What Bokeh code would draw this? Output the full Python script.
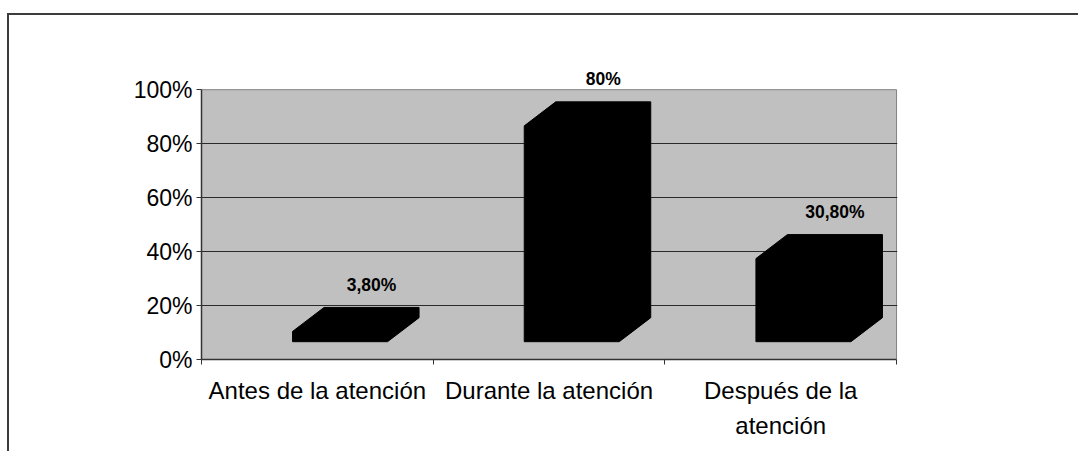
from bokeh.plotting import figure
from bokeh.models import Range1d, FixedTicker, ColumnDataSource
from bokeh.core.properties import value
from bokeh.embed import file_html
from bokeh.resources import INLINE

# ---- data ----
categories = ["Antes de la atención", "Durante la atención", "Después de la\natención"]
values = [3.8, 80.0, 30.8]
value_labels = ["3,80%", "80%", "30,80%"]
y_ticks = [0, 20, 40, 60, 80, 100]
y_tick_labels = ["0%", "20%", "40%", "60%", "80%", "100%"]

FONT = "Liberation Sans"

# ---- 3D look constants (style) ----
BASE = 6.6        # front-face floor (in value units)
DY = 8.9          # depth rise (value units)
DX = 0.136        # depth shift (category units)
FL = -0.107       # front-left offset from category centre
FR = 0.303        # front-right offset from category centre
LABEL_GAP = 8.5   # label above back-top edge (value units)
Y_MAX = y_ticks[-1]
N = len(categories)

p = figure(width=1078, height=451,
           x_range=Range1d(0, N + 0.004), y_range=Range1d(0, 111.2),
           output_backend="svg", toolbar_location=None,
           min_border_left=201, min_border_right=181,
           min_border_top=59, min_border_bottom=92,
           styles={
               "background": "linear-gradient(#3c3c3c, #3c3c3c) 8px 13px / 100% 2px no-repeat, "
                             "linear-gradient(#3c3c3c, #3c3c3c) 7px 13px / 2px 100% no-repeat, white"
           })

p.background_fill_alpha = 0
p.border_fill_alpha = 0
p.outline_line_alpha = 0

# plot area (grey wall)
p.quad(left=[0], right=[N], bottom=[0], top=[Y_MAX], fill_color="#C0C0C0",
       line_color="#808080", line_width=1, level="image")

# prisms
xs, ys, lx, ly = [], [], [], []
for i, v in enumerate(values):
    c = i + 0.5
    l, r = c + FL, c + FR
    top = BASE + v
    xs.append([l, r, r + DX, r + DX, l + DX, l])
    ys.append([BASE, BASE, BASE + DY, top + DY, top + DY, top])
    lx.append((l + r) / 2 + DX)
    ly.append(top + DY + LABEL_GAP)

p.patches(xs=xs, ys=ys, fill_color="black", line_color="black", line_width=1)

src = ColumnDataSource(dict(x=lx, y=ly, t=value_labels))
p.text(x="x", y="y", text="t", source=src, text_align="center", text_baseline="middle",
       text_font=value(FONT), text_font_style="bold", text_font_size="17.5px", text_color="black")

# grid
p.xgrid.visible = False
p.ygrid.ticker = FixedTicker(ticks=y_ticks[1:-1])
p.ygrid.grid_line_color = "#2a2a2a"
p.ygrid.grid_line_width = 1
p.ygrid.bounds = (0, N)

# x axis
cat_pos = [i + 0.5 for i in range(N)]
p.xaxis.ticker = FixedTicker(ticks=cat_pos, minor_ticks=list(range(N + 1)))
p.xaxis.major_label_overrides = {pos: lab for pos, lab in zip(cat_pos, categories)}
p.xaxis.bounds = (0, N)
p.xaxis.major_tick_out = 0
p.xaxis.major_tick_in = 0
p.xaxis.minor_tick_out = 5
p.xaxis.minor_tick_in = 0
p.xaxis.minor_tick_line_color = "#333333"
p.xaxis.axis_line_color = "#333333"
p.xaxis.axis_line_width = 1.5
p.xaxis.major_label_standoff = 12
p.xaxis.major_label_text_font = FONT
p.xaxis.major_label_text_font_size = "24px"
p.xaxis.major_label_text_color = "black"
p.xaxis.major_label_text_line_height = 1.33

# y axis
p.yaxis.ticker = FixedTicker(ticks=y_ticks)
p.yaxis.major_label_overrides = {t: lab for t, lab in zip(y_ticks, y_tick_labels)}
p.yaxis.bounds = (0, Y_MAX)
p.yaxis.major_tick_out = 5
p.yaxis.major_tick_in = 0
p.yaxis.minor_tick_out = 0
p.yaxis.minor_tick_in = 0
p.yaxis.major_tick_line_color = "#333333"
p.yaxis.axis_line_color = "#333333"
p.yaxis.axis_line_width = 1.5
p.yaxis.major_label_standoff = 4
p.yaxis.major_label_text_font = FONT
p.yaxis.major_label_text_font_size = "23px"
p.yaxis.major_label_text_color = "black"

open("out.html", "w").write(file_html(p, INLINE))
